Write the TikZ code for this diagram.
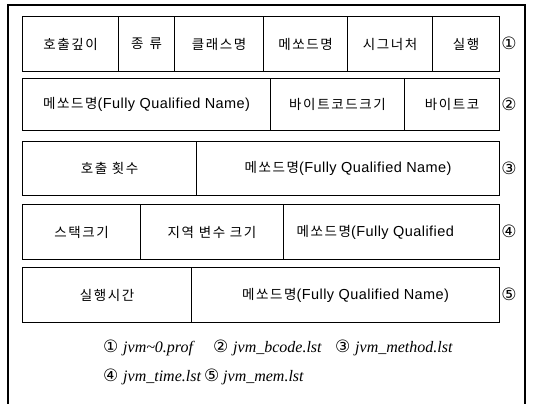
\documentclass[tikz,border=0pt]{standalone}
\usepackage{fontspec}
\newfontfamily\latinfont[LetterSpace=3]{Liberation Sans}
\newfontfamily\krfont[LetterSpace=12]{Noto Sans CJK KR}
\newfontfamily\legendfont{Liberation Serif}
\newfontfamily\symfont{DejaVu Sans}
\newcommand\kr{\krfont\fontsize{13.5}{16}\selectfont}
\newcommand\lat{\latinfont\fontsize{14.5}{16}\selectfont}
\newcommand\methodname[1]{{\kr 메쏘드명}{\lat #1}}
\begin{document}
\begin{tikzpicture}[x=1pt,y=-1pt,
  cell/.style={draw, line width=1.1pt, inner sep=0pt, anchor=north west,
    minimum height=55pt, font=\kr},
  recno/.style={font=\symfont\fontsize{17}{19}\selectfont, inner sep=0pt},
  legend/.style={font=\legendfont\itshape\fontsize{16}{18}\selectfont,
    inner sep=0pt, anchor=base west},
  legno/.style={font=\symfont\fontsize{17}{19}\selectfont,
    inner sep=0pt, anchor=base west},
  frame/.style={line width=1.1pt}]
\useasboundingbox (0,0) rectangle (533,404);

% outer frame (open at the bottom)
\draw[frame] (8,404) -- (8,5) -- (525,5) -- (525,404);

% record 1
\node[cell, minimum width=96pt] (c11) at (22,16) {호출깊이};
\node[cell, minimum width=56pt] (c12) at (118,16) {종\hspace{6pt}류};
\node[cell, minimum width=89pt] (c13) at (174,16) {클래스명};
\node[cell, minimum width=84pt] (c14) at (263,16) {메쏘드명};
\node[cell, minimum width=85pt] (c15) at (347,16) {시그너처};
\node[cell, minimum width=67pt] (c16) at (432,16) {실행};
\node[recno] (m1) at (509,43.5) {①};

% record 2
\node[cell, minimum height=52pt, minimum width=248pt] (c21) at (22,78) {\methodname{(Fully Qualified Name)}};
\node[cell, minimum height=52pt, minimum width=134pt] (c22) at (270,78) {바이트코드크기};
\node[cell, minimum height=52pt, minimum width=95pt] (c23) at (404,78) {바이트코};
\node[recno] (m2) at (509,104) {②};

% record 3
\node[cell, minimum height=54pt, minimum width=174pt] (c31) at (22,141) {호출 횟수};
\node[cell, minimum height=54pt, minimum width=303pt] (c32) at (196,141) {\methodname{(Fully Qualified Name)}};
\node[recno] (m3) at (509,168) {③};

% record 4
\node[cell, minimum width=118pt] (c41) at (22,204) {스택크기};
\node[cell, minimum width=143pt] (c42) at (140,204) {지역 변수 크기};
\node[cell, inner xsep=13pt, text width=190pt, align=left] (c43) at (283,204) {\methodname{(Fully Qualified}};
\node[recno] (m4) at (509,231.5) {④};

% record 5
\node[cell, minimum width=169pt] (c51) at (22,267) {실행시간};
\node[cell, minimum width=308pt] (c52) at (191,267) {\methodname{(Fully Qualified Name)}};
\node[recno] (m5) at (509,294.5) {⑤};

% file legend
\node[legno]  (l1) at (103,352) {①};
\node[legend] (f1) at (123,352) {jvm\textasciitilde 0.prof};
\node[legno]  (l2) at (213,352) {②};
\node[legend] (f2) at (233,352) {jvm\_bcode.lst};
\node[legno]  (l3) at (335,352) {③};
\node[legend] (f3) at (355,352) {jvm\_method.lst};
\node[legno]  (l4) at (103,381) {④};
\node[legend] (f4) at (123,381) {jvm\_time.lst};
\node[legno]  (l5) at (204,381) {⑤};
\node[legend] (f5) at (223,381) {jvm\_mem.lst};
\end{tikzpicture}
\end{document}
